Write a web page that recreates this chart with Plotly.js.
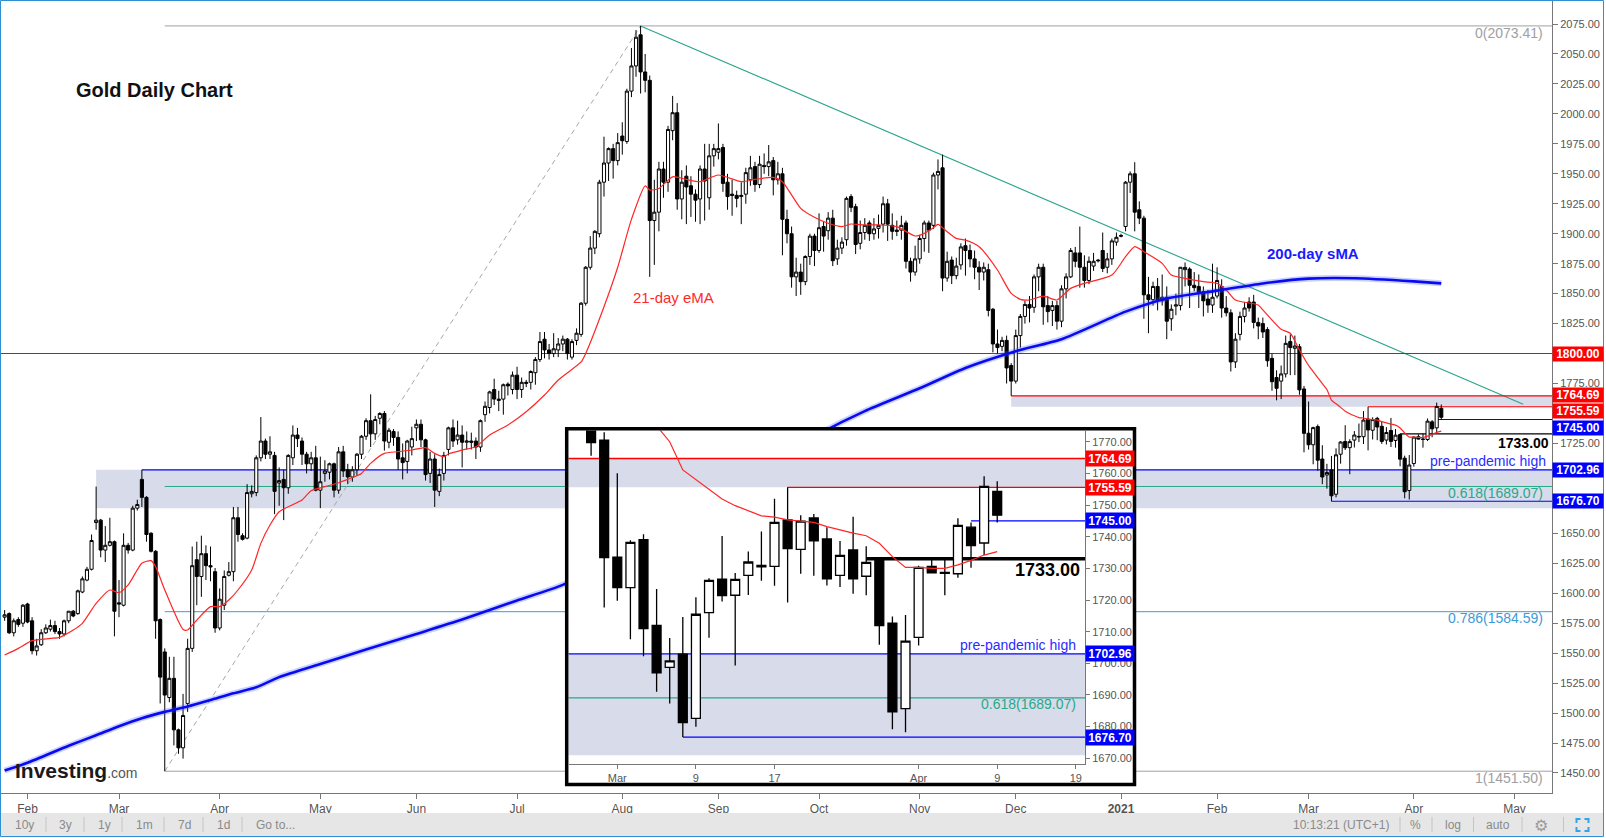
<!DOCTYPE html>
<html><head><meta charset="utf-8">
<script src="https://cdn.plot.ly/plotly-3.0.1.min.js"></script>
<style>html,body{margin:0;padding:0;background:#fff;overflow:hidden}#chart{width:1606px;height:838px}</style>
</head><body><div id="chart"></div>
<script>
// ---------------- DATA ----------------
const dates = [
"2020-01-27","2020-01-28","2020-01-29","2020-01-30","2020-01-31",
"2020-02-03","2020-02-04","2020-02-05","2020-02-06","2020-02-07","2020-02-10","2020-02-11","2020-02-12","2020-02-13","2020-02-14","2020-02-17","2020-02-18","2020-02-19","2020-02-20","2020-02-21","2020-02-24","2020-02-25","2020-02-26","2020-02-27","2020-02-28",
"2020-03-02","2020-03-03","2020-03-04","2020-03-05","2020-03-06","2020-03-09","2020-03-10","2020-03-11","2020-03-12","2020-03-13","2020-03-16","2020-03-17","2020-03-18","2020-03-19","2020-03-20","2020-03-23","2020-03-24","2020-03-25","2020-03-26","2020-03-27","2020-03-30","2020-03-31",
"2020-04-01","2020-04-02","2020-04-03","2020-04-06","2020-04-07","2020-04-08","2020-04-09","2020-04-10","2020-04-13","2020-04-14","2020-04-15","2020-04-16","2020-04-17","2020-04-20","2020-04-21","2020-04-22","2020-04-23","2020-04-24","2020-04-27","2020-04-28","2020-04-29","2020-04-30",
"2020-05-01","2020-05-04","2020-05-05","2020-05-06","2020-05-07","2020-05-08","2020-05-11","2020-05-12","2020-05-13","2020-05-14","2020-05-15","2020-05-18","2020-05-19","2020-05-20","2020-05-21","2020-05-22","2020-05-25","2020-05-26","2020-05-27","2020-05-28","2020-05-29",
"2020-06-01","2020-06-02","2020-06-03","2020-06-04","2020-06-05","2020-06-08","2020-06-09","2020-06-10","2020-06-11","2020-06-12","2020-06-15","2020-06-16","2020-06-17","2020-06-18","2020-06-19","2020-06-22","2020-06-23","2020-06-24","2020-06-25","2020-06-26","2020-06-29","2020-06-30",
"2020-07-01","2020-07-02","2020-07-03","2020-07-06","2020-07-07","2020-07-08","2020-07-09","2020-07-10","2020-07-13","2020-07-14","2020-07-15","2020-07-16","2020-07-17","2020-07-20","2020-07-21","2020-07-22","2020-07-23","2020-07-24","2020-07-27","2020-07-28","2020-07-29","2020-07-30","2020-07-31",
"2020-08-03","2020-08-04","2020-08-05","2020-08-06","2020-08-07","2020-08-10","2020-08-11","2020-08-12","2020-08-13","2020-08-14","2020-08-17","2020-08-18","2020-08-19","2020-08-20","2020-08-21","2020-08-24","2020-08-25","2020-08-26","2020-08-27","2020-08-28","2020-08-31",
"2020-09-01","2020-09-02","2020-09-03","2020-09-04","2020-09-07","2020-09-08","2020-09-09","2020-09-10","2020-09-11","2020-09-14","2020-09-15","2020-09-16","2020-09-17","2020-09-18","2020-09-21","2020-09-22","2020-09-23","2020-09-24","2020-09-25","2020-09-28","2020-09-29","2020-09-30",
"2020-10-01","2020-10-02","2020-10-05","2020-10-06","2020-10-07","2020-10-08","2020-10-09","2020-10-12","2020-10-13","2020-10-14","2020-10-15","2020-10-16","2020-10-19","2020-10-20","2020-10-21","2020-10-22","2020-10-23","2020-10-26","2020-10-27","2020-10-28","2020-10-29","2020-10-30",
"2020-11-02","2020-11-03","2020-11-04","2020-11-05","2020-11-06","2020-11-09","2020-11-10","2020-11-11","2020-11-12","2020-11-13","2020-11-16","2020-11-17","2020-11-18","2020-11-19","2020-11-20","2020-11-23","2020-11-24","2020-11-25","2020-11-26","2020-11-27","2020-11-30",
"2020-12-01","2020-12-02","2020-12-03","2020-12-04","2020-12-07","2020-12-08","2020-12-09","2020-12-10","2020-12-11","2020-12-14","2020-12-15","2020-12-16","2020-12-17","2020-12-18","2020-12-21","2020-12-22","2020-12-23","2020-12-24","2020-12-25","2020-12-28","2020-12-29","2020-12-30","2020-12-31",
"2021-01-01","2021-01-04","2021-01-05","2021-01-06","2021-01-07","2021-01-08","2021-01-11","2021-01-12","2021-01-13","2021-01-14","2021-01-15","2021-01-18","2021-01-19","2021-01-20","2021-01-21","2021-01-22","2021-01-25","2021-01-26","2021-01-27","2021-01-28","2021-01-29",
"2021-02-01","2021-02-02","2021-02-03","2021-02-04","2021-02-05","2021-02-08","2021-02-09","2021-02-10","2021-02-11","2021-02-12","2021-02-15","2021-02-16","2021-02-17","2021-02-18","2021-02-19","2021-02-22","2021-02-23","2021-02-24","2021-02-25","2021-02-26",
"2021-03-01","2021-03-02","2021-03-03","2021-03-04","2021-03-05","2021-03-08","2021-03-09","2021-03-10","2021-03-11","2021-03-12","2021-03-15","2021-03-16","2021-03-17","2021-03-18","2021-03-19","2021-03-22","2021-03-23","2021-03-24","2021-03-25","2021-03-26","2021-03-29","2021-03-30","2021-03-31",
"2021-04-01","2021-04-02","2021-04-05","2021-04-06","2021-04-07","2021-04-08","2021-04-09"
];
const opens = [
1580,1583,1567,1578,1575,
1591,1577,1552,1557,1567,1570,1573,1568,1566,1577,1585,1583,1601,1611,1620,1659,1661,1636,1640,1643,
1592,1590,1640,1636,1671,1695,1680,1650,1635,1578,1551,1513,1529,1486,1471,1508,1554,1628,1614,1633,1623,1618,
1571,1590,1615,1618,1663,1648,1646,1683,1684,1713,1727,1716,1715,1692,1695,1688,1713,1732,1727,1716,1708,1713,
1686,1700,1701,1708,1686,1718,1703,1697,1703,1716,1731,1744,1733,1746,1750,1726,1735,1730,1713,1710,1722,
1738,1741,1728,1700,1712,1685,1700,1720,1738,1728,1732,1726,1727,1727,1722,1749,1755,1770,1762,1762,1774.5,1770,
1782,1770,1775,1776,1784,1795,1812,1803,1800,1803,1808,1812,1797,1811,1816,1842,1872,1888,1900,1943,1959,1971,1961,
1981.5,1977,2019,2040,2066,2035,2028,1911,1918,1954,1943,1986,2001,1929,1948,1940,1933,1929,1954,1930,1965,
1968,1972,1943,1933,1932,1931,1933,1945,1956,1941,1957,1956,1961,1945,1950,1912,1900,1864,1868,1860,1881,1898,
1886,1906,1902.5,1913,1879,1888,1895,1931,1922.6,1892,1901,1909,1900,1904.5,1908,1925,1907,1903,1903,1909,1877,1868,
1879,1896,1909,1907,1949,1955,1863,1878,1865,1874,1890,1886,1879,1872,1868,1870,1837,1808,1806,1811,1790,
1777,1815,1831,1841,1838.6,1864,1872,1840,1836,1840,1827,1854,1864,1884,1884,1872,1861,1873,1878,1886,1872,1879,1893,
1898.5,1906,1943,1950,1920,1913,1849,1845,1856,1844,1847,1829,1839.6,1840,1870,1870.5,1857,1856,1851.6,1845.5,1840.5,
1848,1856,1838,1834,1793,1816,1831,1843,1843,1826,1825,1820,1796,1780,1777,1783,1810,1804.4,1805.7,1770.5,
1733.5,1723.9,1739.1,1712.0,1698.7,1702.9,1682.6,1716.0,1726.6,1721.5,1727.8,1730.9,1730.6,1745.3,1736.0,1745.9,1739.3,1727.8,1735.8,1727.5,1732.4,1712.7,1685.7,
1708.2,1730.6,1728.7,1728.3,1743.0,1738.0,1754.3
];
const highs = [
1586,1584,1579,1580,1591,
1592,1580,1562,1570,1574,1578,1577,1571,1578,1585,1586,1603,1614,1622,1649,1689,1662,1656,1663,1644,
1611,1650,1642,1673,1678,1703,1681,1651,1636,1579,1554,1547,1547,1487,1516,1562,1639,1643,1648,1640,1639,1621,
1604,1619,1626,1672,1672,1650,1691,1690,1715,1747,1729,1731,1718,1705,1703,1716,1740,1738,1730,1718,1718,1723,
1714,1711,1709,1709,1722,1723,1708,1706,1717,1732,1746,1766,1748,1751,1752,1738,1737,1735,1725,1728,1739,
1745,1745,1729,1718,1716,1704,1718,1739,1745,1744,1740,1735,1734,1730,1745,1760,1769,1779,1769,1775,1776,1785,
1789,1780,1778,1786,1797,1818,1818,1808,1817,1813,1815,1813,1812,1821,1843,1873,1898,1903,1945,1981,1972,1975,1984,
1993,2021,2055,2070,2073.41,2050,2032,1945,1960,1960,1990,2015,2009,1953,1957,1948,1937,1957,1975,1975,1975,
1992,1975,1950,1945,1936,1943,1955,1965,1960,1965,1967,1974,1964,1960,1955,1920,1906,1880,1875,1882,1900,1900,
1917,1910,1918,1920,1895,1897,1931,1933,1925,1911,1913,1911,1913,1916,1931,1929,1917,1911,1915,1911,1880,1890,
1899,1911,1911,1951,1962,1966,1885,1881,1880,1892,1896,1891,1886,1877,1876,1875,1838,1820,1814,1815,1792,
1820,1833,1844,1848,1866,1875,1875,1848,1844,1844,1857,1867,1888,1889,1906,1882,1881,1884,1879,1901,1884,1896,1901,
1900,1944,1952,1959.7,1927,1915,1864,1860,1863,1866,1856,1841,1850,1872,1876,1872,1868,1866,1856,1853,1875,
1872,1862,1848,1837,1817,1835,1843,1847,1849,1830,1830,1822,1800,1786,1790,1815,1816,1815,1808,1773,
1760.0,1738.9,1740.8,1723.5,1708.0,1714.6,1720.9,1726.9,1740.2,1728.5,1735.3,1741.6,1752.0,1755.59,1746.8,1747.2,1743.0,1738.6,1746.3,1737.0,1733.2,1714.8,1715.3,
1730.8,1732.6,1733.2,1745.8,1744.5,1759.1,1757.5
];
const lows = [
1577,1566,1564,1572,1572,
1575,1549,1548,1556,1566,1568,1566,1562,1564,1575,1580,1582,1600,1610,1619,1653,1630,1626,1639,1564,
1580,1589,1633,1635,1669,1672,1643,1634,1562,1508,1451.5,1509,1473,1466,1462,1501,1551,1590,1597,1611,1610,1567,
1569,1586,1614,1610,1643,1644,1645,1680,1681,1710,1712,1712,1666,1673,1661,1683,1707,1722,1707,1700,1702,1685,
1671,1693,1695,1680,1683,1697,1691,1693,1698,1712,1728,1722,1728,1741,1719,1721,1723,1703,1695,1700,1715,
1727,1722,1694,1692,1672,1681,1694,1715,1722,1724,1705,1720,1720,1712,1718,1743,1750,1757,1752,1749,1765,1766,
1762,1763,1772,1770,1774,1793,1796,1795,1797,1797,1802,1795,1795,1807,1814,1840,1870,1883,1897,1931,1944,1946,1957,
1966,1975,2014,2031,2017,2018,1864,1874,1902,1930,1935,1978,1920,1912,1908,1914,1910,1908,1911,1920,1956,
1962,1935,1920,1915,1922,1908,1925,1940,1935,1938,1950,1948,1932,1941,1882,1892,1855,1848,1849,1857,1874,1873,
1884,1885,1895,1873,1874,1883,1890,1918,1883,1887,1895,1894,1895,1896,1901,1894,1895,1898,1895,1871,1860,1865,
1875,1885,1884,1904,1937,1852,1860,1858,1862,1870,1865,1872,1862,1853,1861,1831,1801,1800,1802,1775,1764.69,
1775,1805,1825,1826,1834,1852,1824,1826,1823,1820,1822,1846,1863,1872,1855,1855,1858,1869,1876,1868,1867,1874,1890,
1897,1902,1934,1902,1908,1829,1817,1840,1836,1840,1812,1819,1832,1836,1856,1838,1852,1838,1831,1834,1834,
1846,1830,1831,1785,1788,1811,1826,1835,1821,1812,1813,1789,1769,1761,1762,1780,1782,1782,1765.6,1717.6,
1719.8,1707.6,1702.2,1691.0,1687.3,1676.7,1680.0,1708.1,1719.5,1699.3,1721.6,1726.1,1724.5,1719.2,1728.3,1727.7,1724.6,1724.1,1722.0,1721.5,1705.9,1679.2,1678.2,
1705.6,1728.4,1721.5,1727.0,1730.2,1734.2,1744.5
];
const closes = [
1582,1567,1577,1574,1590,
1576,1552,1556,1567,1571,1573,1568,1566,1577,1585,1581,1602,1612,1620,1644,1661,1636,1640,1643,1585,
1591,1640,1636,1671,1674,1680,1649,1635,1577,1530,1515,1529,1486,1471,1498,1554,1623,1614,1633,1623,1622,1571,
1595,1614,1618,1663,1649,1645,1684,1685,1713,1727,1716,1718,1685,1694,1688,1715,1732,1729,1716,1708,1713,1686,
1693,1702,1708,1686,1718,1702,1697,1703,1716,1731,1744,1733,1745,1750,1727,1736,1730,1712,1709,1727,1729,
1741,1728,1699,1712,1686,1699,1715,1738,1727,1732,1726,1727,1726,1722,1744,1756,1768,1762,1761,1774,1773,1782,
1770,1776,1776,1785,1795,1810,1803,1800,1804,1808,1812,1800,1810,1817,1842,1872,1888,1902,1943,1959,1971,1961,1976,
1977.6,2019,2040,2064,2035,2028,1911,1918,1954,1943,1987,2001,1929,1943,1939,1933,1928,1954,1944,1965,1971,
1971,1942,1931,1932,1929.5,1932,1951,1955,1941,1958,1956,1960,1945,1950,1912,1900,1864,1868,1860,1881,1898,1886,
1905,1898,1913,1877.5,1888,1893,1929.5,1922,1891,1901,1907,1900,1904,1907,1925,1908,1902,1902,1907,1877,1868,1879,
1896,1909,1903,1949,1952,1863,1877,1865,1873,1889,1886,1879,1872,1868,1872,1836,1808,1805,1811,1788,1777,
1815,1831,1841,1838,1864,1872,1839,1835,1840,1827,1854,1864,1886,1877,1872,1861,1877,1877,1877.5,1871,1879,1894,1897,
1898,1943,1950,1918,1913,1849,1845,1856,1844,1847,1827,1837,1840.6,1872,1871.9,1857,1855,1851,1844,1840.5,1847,
1861,1838,1834,1793,1812,1831,1838,1838,1826,1823,1818,1794,1776.5,1771,1783,1808.5,1805,1806.3,1769.7,1733.4,
1723.9,1738.2,1711.0,1697.0,1700.8,1681.3,1715.5,1726.2,1721.4,1726.5,1732.0,1730.5,1744.5,1736.2,1744.9,1738.7,1726.7,1734.1,1726.7,1731.9,1711.9,1684.7,1707.0,
1730.3,1728.6,1728.4,1743.6,1737.2,1755.9,1746.8
];
// 21-day EMA
const emaDates = ["2020-01-27","2020-01-30","2020-02-04","2020-02-10","2020-02-12","2020-02-17","2020-02-19","2020-02-24","2020-02-27","2020-03-02","2020-03-04","2020-03-09","2020-03-11","2020-03-12","2020-03-16","2020-03-20","2020-03-23","2020-03-25","2020-03-30","2020-04-01","2020-04-03","2020-04-07","2020-04-10","2020-04-14","2020-04-16","2020-04-20","2020-04-27","2020-04-29","2020-05-04","2020-05-07","2020-05-11","2020-05-14","2020-05-18","2020-05-21","2020-05-26","2020-05-29","2020-06-03","2020-06-05","2020-06-09","2020-06-10","2020-06-15","2020-06-18","2020-06-23","2020-06-29","2020-07-03","2020-07-09","2020-07-14","2020-07-21","2020-07-22","2020-07-28","2020-07-31","2020-08-05","2020-08-10","2020-08-11","2020-08-13","2020-08-18","2020-08-21","2020-08-26","2020-09-01","2020-09-08","2020-09-11","2020-09-17","2020-09-21","2020-09-25","2020-09-30","2020-10-05","2020-10-08","2020-10-12","2020-10-15","2020-10-20","2020-10-26","2020-10-30","2020-11-03","2020-11-05","2020-11-06","2020-11-10","2020-11-12","2020-11-16","2020-11-19","2020-11-25","2020-11-30","2020-12-02","2020-12-04","2020-12-09","2020-12-14","2020-12-17","2020-12-22","2020-12-30","2021-01-04","2021-01-06","2021-01-08","2021-01-14","2021-01-18","2021-01-21","2021-01-27","2021-02-01","2021-02-03","2021-02-05","2021-02-12","2021-02-15","2021-02-19","2021-02-23","2021-02-25","2021-03-01","2021-03-02","2021-03-03","2021-03-04","2021-03-05","2021-03-08","2021-03-09","2021-03-10","2021-03-11","2021-03-12","2021-03-15","2021-03-16","2021-03-17","2021-03-18","2021-03-19","2021-03-22","2021-03-23","2021-03-24","2021-03-25","2021-03-26","2021-03-29","2021-03-30","2021-03-31","2021-04-01","2021-04-02","2021-04-05","2021-04-06","2021-04-07","2021-04-08","2021-04-09"];
const emaValues = [1548.4,1554,1560.4,1562.3,1563.2,1569.3,1574.9,1591.5,1602.7,1600.4,1606.9,1625.0,1627.2,1622.2,1602.7,1569.8,1569.3,1577.6,1588.8,1588.8,1594.3,1602.7,1619.4,1641.6,1656.9,1668.0,1677.8,1685.6,1688.9,1692.2,1695.0,1700.0,1708.4,1716.7,1718.1,1719.5,1721.5,1716.7,1714.0,1716.2,1719.5,1722.3,1732.0,1740.4,1751.5,1765.4,1777.9,1793.0,1800.0,1839.0,1872.0,1912.0,1940.0,1936.4,1937.8,1947.5,1945.3,1943.4,1949.0,1943.4,1945.3,1947.0,1943.4,1921.2,1913.7,1908.7,1905.9,1908.1,1907.3,1907.3,1905.9,1898.1,1900.3,1905.0,1907.8,1901.7,1896.1,1894.7,1889.2,1869.7,1850.2,1845.2,1844.7,1848.0,1844.7,1854.4,1858.6,1865.5,1880.8,1889.2,1885.0,1875.3,1865.5,1862.7,1860.0,1858.6,1853.0,1844.7,1840.5,1836.4,1820.2,1816.9,1803.0,1790.0,1785.0,1780.0,1775.0,1770.0,1761.1,1758.1,1755.1,1751.9,1749.8,1748.1,1746.6,1746.2,1745.3,1744.9,1744.5,1743.2,1742.1,1741.1,1740.3,1737.9,1733.7,1730.3,1730.3,1730.0,1730.0,1731.1,1732.5,1734.2,1735.3];
// 200-day SMA
const smaDates = ["2020-01-27","2020-02-03","2020-02-14","2020-02-24","2020-03-02","2020-03-09","2020-03-16","2020-03-23","2020-03-30","2020-04-06","2020-04-13","2020-04-20","2020-05-01","2020-05-15","2020-06-01","2020-06-15","2020-07-01","2020-07-15","2020-08-03","2020-08-17","2020-09-01","2020-09-15","2020-10-01","2020-10-15","2020-11-02","2020-11-16","2020-12-01","2020-12-15","2021-01-04","2021-01-15","2021-02-01","2021-02-15","2021-03-01","2021-03-15","2021-04-01","2021-04-09"];
const smaValues = [1452,1458.5,1472.7,1481.5,1489,1495.7,1501,1505.5,1510.9,1516.5,1521.5,1530,1541,1553,1566,1578,1594,1607,1633,1656,1682,1706,1733,1752,1771,1788,1802,1812,1835,1846,1852.5,1858.5,1862.5,1862.8,1860.2,1858.6];
// axis ticks
const monthTickDates = ["2020-02-03","2020-03-02","2020-04-01","2020-05-01","2020-06-01","2020-07-01","2020-08-03","2020-09-01","2020-10-01","2020-11-02","2020-12-01","2021-01-01","2021-02-01","2021-03-01","2021-04-01","2021-05-03"];
const monthTickLabels = ["Feb","Mar","Apr","May","Jun","Jul","Aug","Sep","Oct","Nov","Dec","<b>2021</b>","Feb","Mar","Apr","May"];
// price ticks visible on the main axis (the others sit under the coloured level boxes)
const priceTicks = [1450,1475,1500,1525,1550,1575,1600,1625,1650,1725,1775,1825,1850,1875,1900,1925,1950,1975,2000,2025,2050,2075];
const insetTickDates = ["2021-03-01","2021-03-09","2021-03-17","2021-04-01","2021-04-09","2021-04-19"];
const insetTickLabels = ["Mar","9","17","Apr","9","19"];
const insetPriceTicks = [1670,1680,1690,1700,1710,1720,1730,1740,1750,1760,1770];
// horizontal levels and their start dates
const levelValues = [1800.00, 1764.69, 1755.59, 1745.00, 1733.00, 1702.96, 1676.70];
const levelStartMain = ["2020-01-01","2020-11-30","2021-03-18","2021-04-08","2021-03-29","2020-03-09","2021-03-08"];
const levelStartInset = ["2021-01-01","2021-01-01","2021-03-18","2021-04-07","2021-03-26","2021-01-01","2021-03-08"];
const levelColors = ["#ff0000","#ff0000","#ff0000","#0000ff","#000000","#0000ff","#0000ff"];
const bandFloor = 1671.0;
// Fibonacci retracement (Mar 16 2020 low -> Aug 7 2020 high)
const fibRatios = ["0","0.618","0.786","1"];
const fibValues = [2073.41, 1689.07, 1584.59, 1451.50];
const fibColors = ["#a0a0a0","#2aa888","#3d9ad8","#a0a0a0"];
const fibSwingDates = ["2020-03-16","2020-08-07"];
// falling trend line end points
const trendDates = ["2020-08-07 12:00","2021-05-05 09:36"];
const trendValues = [2073.41, 1757.7];

// ---------------- helpers ----------------
const X = d => d.length > 10 ? d : d + " 12:00";
const PX = p => (p - 1) / 1551;       // pixel -> paper x
const PY = p => (793 - p) / 792;      // pixel -> paper y
const FAR = "2021-07-30";
const band = "#d7dbea";
const fmt = v => v.toFixed(2);

// ---------------- traces ----------------
const candleStyle = w => ({
  increasing: {line: {color: "#000", width: w}, fillcolor: "#fff"},
  decreasing: {line: {color: "#000", width: w}, fillcolor: "#000"},
  whiskerwidth: 0, hoverinfo: "skip", showlegend: false
});
const traces = [
  Object.assign({type: "candlestick", x: dates.map(X), open: opens, high: highs, low: lows, close: closes, xaxis: "x", yaxis: "y"}, candleStyle(1)),
  {type: "scatter", mode: "lines", x: emaDates.map(X), y: emaValues, xaxis: "x", yaxis: "y", line: {color: "#ff2626", width: 1.2, shape: "spline", smoothing: 0.6}, hoverinfo: "skip"},
  {type: "scatter", mode: "lines", x: smaDates.map(X), y: smaValues, xaxis: "x", yaxis: "y", line: {color: "rgba(60,90,255,0.28)", width: 6, shape: "spline", smoothing: 0.6}, hoverinfo: "skip"},
  {type: "scatter", mode: "lines", x: smaDates.map(X), y: smaValues, xaxis: "x", yaxis: "y", line: {color: "#0a0af0", width: 2.6, shape: "spline", smoothing: 0.6}, hoverinfo: "skip"},
  {type: "scatter", mode: "markers", x: [0.5], y: [0.5], xaxis: "x2", yaxis: "y2", marker: {opacity: 0}, hoverinfo: "skip"},
  Object.assign({type: "candlestick", x: dates.map(X), open: opens, high: highs, low: lows, close: closes, xaxis: "x3", yaxis: "y3"}, candleStyle(1.3)),
  {type: "scatter", mode: "lines", x: emaDates.map(X), y: emaValues, xaxis: "x3", yaxis: "y3", line: {color: "#ff2626", width: 1.2}, hoverinfo: "skip"}
];

// ---------------- shapes ----------------
const shapes = [];
// main chart (drawn beneath the inset)
shapes.push({type: "rect", xref: "x", yref: "y", layer: "below", x0: X("2020-02-24"), x1: FAR, y0: bandFloor, y1: levelValues[5], fillcolor: band, line: {width: 0}});
shapes.push({type: "rect", xref: "x", yref: "y", layer: "below", x0: X("2020-11-30"), x1: FAR, y0: levelValues[2], y1: levelValues[1], fillcolor: band, line: {width: 0}});
fibValues.forEach((v, i) => shapes.push({type: "line", xref: "x", yref: "y", layer: "below", x0: X(fibSwingDates[0]), x1: FAR, y0: v, y1: v, line: {color: fibColors[i], width: 1}}));
shapes.push({type: "line", xref: "x", yref: "y", layer: "below", x0: X(fibSwingDates[0]), y0: fibValues[3], x1: X(fibSwingDates[1]), y1: fibValues[0], line: {color: "#a8a8a8", width: 1, dash: "5px,4px"}});
shapes.push({type: "line", xref: "x", yref: "y", layer: "below", x0: trendDates[0], y0: trendValues[0], x1: trendDates[1], y1: trendValues[1], line: {color: "#2aa58a", width: 1.1}});
levelValues.forEach((v, i) => shapes.push({type: "line", xref: "x", yref: "y", layer: "below", x0: X(levelStartMain[i]), x1: FAR, y0: v, y1: v, line: {color: levelColors[i], width: 1.1}}));
// inset
shapes.push({type: "rect", xref: "x3", yref: "y3", layer: "below", x0: "2021-01-01", x1: FAR, y0: bandFloor, y1: levelValues[5], fillcolor: band, line: {width: 0}});
shapes.push({type: "rect", xref: "x3", yref: "y3", layer: "below", x0: "2021-01-01", x1: FAR, y0: levelValues[2], y1: levelValues[1], fillcolor: band, line: {width: 0}});
shapes.push({type: "line", xref: "x3", yref: "y3", layer: "below", x0: "2021-01-01", x1: FAR, y0: fibValues[1], y1: fibValues[1], line: {color: fibColors[1], width: 1.2}});
levelValues.slice(1).forEach((v, j) => {
  const i = j + 1;
  shapes.push({type: "line", xref: "x3", yref: "y3", layer: "below", x0: X(levelStartInset[i]), x1: FAR, y0: v, y1: v,
    line: {color: levelColors[i], width: i === 4 ? 3.5 : 1.3}});
});
// inset frame
shapes.push({type: "rect", xref: "paper", yref: "paper", layer: "above", x0: PX(566.7), x1: PX(1134.5), y0: PY(784.5), y1: PY(428.8), line: {color: "#000", width: 3.5}, fillcolor: "rgba(0,0,0,0)"});
// bottom tool bar
shapes.push({type: "rect", xref: "paper", yref: "paper", layer: "above", x0: PX(1), x1: PX(1603), y0: PY(836), y1: PY(813), fillcolor: "#e6e6e6", line: {width: 0}});
[46, 84, 122, 164, 203, 242, 1400, 1432, 1473.5, 1522, 1563.5].forEach(p => shapes.push({type: "line", xref: "paper", yref: "paper", layer: "above", x0: PX(p), x1: PX(p), y0: PY(832), y1: PY(817), line: {color: "#c4c4c4", width: 1}}));
// expand icon
(function(){
  const cx = 1582.5, cy = 825, a = 6, b = 2;
  const P = (x, y) => PX(x) + "," + PY(y);
  const path = "M" + P(cx-a, cy-b) + " L" + P(cx-a, cy-a) + " L" + P(cx-b, cy-a) +
    " M" + P(cx+b, cy-a) + " L" + P(cx+a, cy-a) + " L" + P(cx+a, cy-b) +
    " M" + P(cx+a, cy+b) + " L" + P(cx+a, cy+a) + " L" + P(cx+b, cy+a) +
    " M" + P(cx-b, cy+a) + " L" + P(cx-a, cy+a) + " L" + P(cx-a, cy+b);
  shapes.push({type: "path", xref: "paper", yref: "paper", layer: "above", path: path, line: {color: "#30a4e6", width: 2}});
})();
// outer widget border
shapes.push({type: "rect", xref: "paper", yref: "paper", layer: "above", x0: PX(0.5), x1: PX(1603.5), y0: PY(836.5), y1: PY(0.5), line: {color: "#2f8fd3", width: 1}, fillcolor: "rgba(0,0,0,0)"});

// ---------------- annotations ----------------
const ann = [];
const txt = (text, x, y, xanchor, size, color, extra) => ann.push(Object.assign({text: text, xref: "paper", yref: "paper", x: PX(x), y: PY(y), xanchor: xanchor, yanchor: "middle", showarrow: false, font: {size: size, color: color}}, extra || {}));
txt("<b>Gold Daily Chart</b>", 74, 90, "left", 20, "#111");
txt("21-day eMA", 631, 297, "left", 15, "#ff2a2a");
txt("<b>200-day sMA</b>", 1265, 254, "left", 15, "#1a1aff");
[33, 493, 618, 778].forEach((py, i) => txt(fibRatios[i] + "(" + fmt(fibValues[i]) + ")", 1545, py, "right", 14, fibColors[i]));
txt("<b>" + fmt(levelValues[4]) + "</b>", 1551, 443, "right", 14, "#000");
txt("pre-pandemic high", 1548, 461, "right", 14, "#2b2bff");
txt("<b>Investing</b><span style='font-size:14px;color:#555'>.com</span>", 13, 770, "left", 21, "#1a1a1a");
// inset texts
txt("pre-pandemic high", 1078, 645, "right", 14, "#2b2bff");
txt(fibRatios[1] + "(" + fmt(fibValues[1]) + ")", 1078, 704, "right", 14, fibColors[1]);
txt("<b>" + fmt(levelValues[4]) + "</b>", 1082, 570, "right", 18, "#000");
// price boxes (stacked a little apart where levels are close, as on the reference)
const boxIdx = [0, 1, 2, 3, 5, 6];
const boxShiftMain = {0: 0, 1: 1, 2: -4, 3: -8.5, 5: 0, 6: 0};
boxIdx.forEach(i => ann.push({text: "<b>" + fmt(levelValues[i]) + "</b>", xref: "paper", yref: "y", x: 1, y: levelValues[i], xanchor: "left", yanchor: "middle", yshift: boxShiftMain[i],
  showarrow: false, bgcolor: levelColors[i], width: 48, height: 12, borderpad: 1, align: "center", font: {size: 12, color: "#fff"}}));
boxIdx.slice(1).forEach(i => ann.push({text: "<b>" + fmt(levelValues[i]) + "</b>", xref: "paper", yref: "y3", x: PX(1085), y: levelValues[i], xanchor: "left", yanchor: "middle",
  showarrow: false, bgcolor: levelColors[i], width: 46, height: 13, borderpad: 1, align: "center", font: {size: 12, color: "#fff"}}));
// tool bar labels
[["10y", 24], ["3y", 65], ["1y", 104], ["1m", 144], ["7d", 184], ["1d", 223], ["Go to...", 275], ["10:13:21 (UTC+1)", 1341], ["%", 1415], ["log", 1453], ["auto", 1498]]
  .forEach(t => txt(t[0], t[1], 825, "center", 12, "#8a8a8a"));
ann.push({text: "\u2699", xref: "paper", yref: "paper", x: PX(1541), y: PY(825), xanchor: "center", yanchor: "middle", showarrow: false, font: {size: 16, color: "#9a9a9a", family: "DejaVu Sans"}});

// ---------------- layout ----------------
const axCommon = {showgrid: false, zeroline: false, fixedrange: true, ticks: "outside", ticklen: 5, tickcolor: "#777", showline: true, linecolor: "#777", linewidth: 1, tickfont: {size: 11, color: "#555"}};
const layout = {
  width: 1606, height: 838,
  margin: {l: 1, r: 54, t: 1, b: 45, pad: 0},
  paper_bgcolor: "#fff", plot_bgcolor: "#fff",
  showlegend: false, hovermode: false, dragmode: false,
  boxgap: 0.32, boxgroupgap: 0,
  font: {family: "Arial, 'Liberation Sans', sans-serif", color: "#555", size: 11},
  xaxis: Object.assign({}, axCommon, {type: "date", range: ["2020-01-24 17:00", "2021-05-13 16:48"], rangebreaks: [{bounds: ["sat", "mon"]}],
    tickmode: "array", tickvals: monthTickDates.map(X), ticktext: monthTickLabels, rangeslider: {visible: false}, anchor: "y", tickfont: {size: 12, color: "#555"}}),
  yaxis: Object.assign({}, axCommon, {side: "right", range: [1433.3, 2094.2], tickmode: "array", tickvals: priceTicks, ticktext: priceTicks.map(fmt), anchor: "x"}),
  xaxis2: {domain: [PX(566.7), PX(1134.5)], anchor: "y2", range: [0, 1], visible: false, fixedrange: true},
  yaxis2: {domain: [PY(784.5), PY(428.8)], anchor: "x2", range: [0, 1], visible: false, fixedrange: true},
  xaxis3: Object.assign({}, axCommon, {type: "date", domain: [PX(568.5), PX(1085)], anchor: "y3", range: ["2021-02-23 18:36", "2021-04-20 04:48"],
    rangebreaks: [{bounds: ["sat", "mon"]}], tickmode: "array", tickvals: insetTickDates.map(X), ticktext: insetTickLabels, ticklen: 4, rangeslider: {visible: false}}),
  yaxis3: Object.assign({}, axCommon, {domain: [PY(764), PY(430.5)], anchor: "x3", side: "right", range: [1668.2, 1773.54], tickmode: "array", tickvals: insetPriceTicks, ticktext: insetPriceTicks.map(fmt), ticklen: 4}),
  shapes: shapes,
  annotations: ann
};
Plotly.newPlot("chart", traces, layout, {staticPlot: true, displayModeBar: false});
</script>
</body></html>
